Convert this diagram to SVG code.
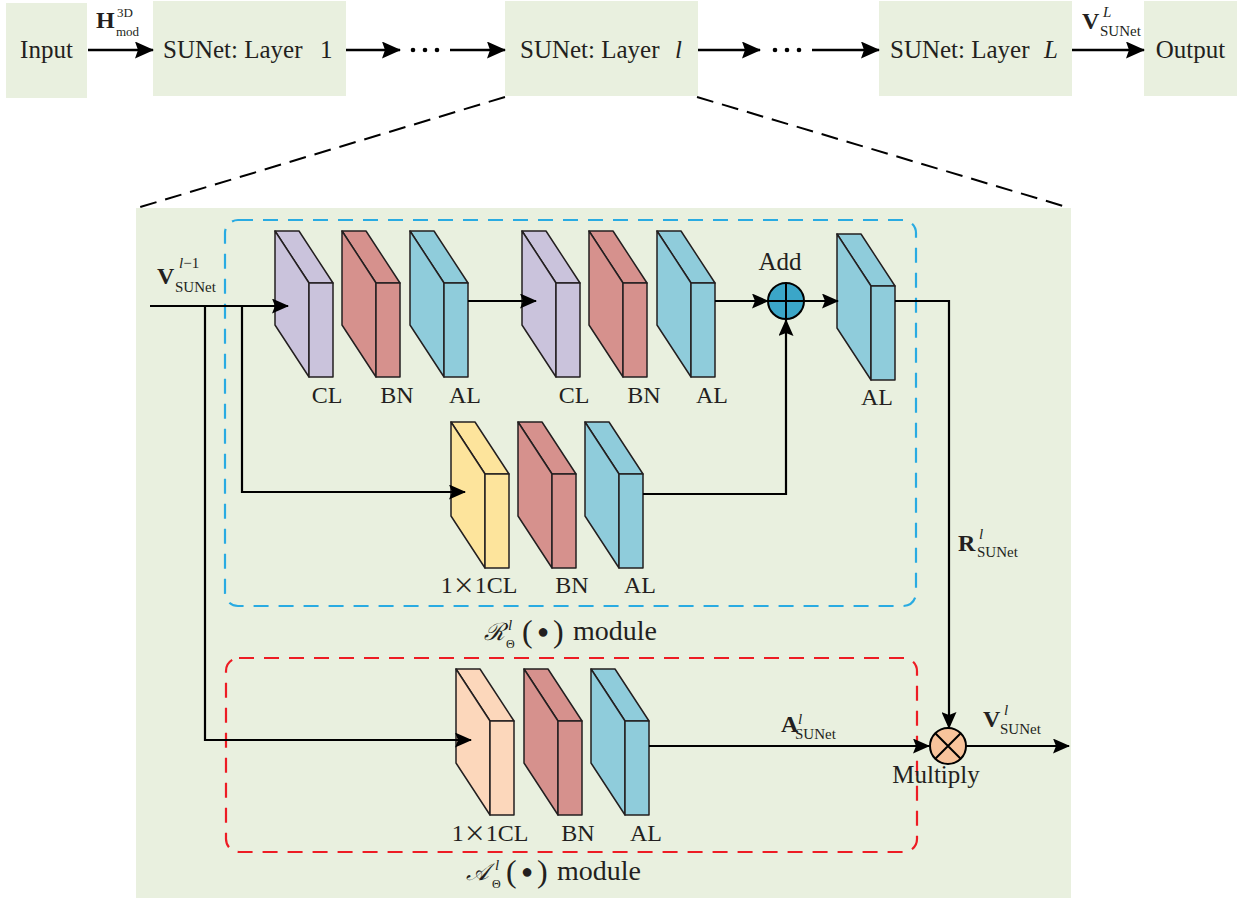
<svg xmlns="http://www.w3.org/2000/svg" xmlns:xlink="http://www.w3.org/1999/xlink" width="1244" height="903" viewBox="0 0 1244 903">
<style>
.box{fill:#e9f0df}
.t{font-family:"Liberation Serif","DejaVu Serif",serif;font-size:25px;fill:#231f20}
.lb{font-size:24px}
.b{font-weight:bold;font-size:24px}
.s{font-size:15px}
.i{font-style:italic}
.ln{fill:none;stroke:#000;stroke-width:2.2}
.lt{fill:none;stroke:#000;stroke-width:2.6}
.dk{fill:none;stroke:#000;stroke-width:2;stroke-dasharray:17 9}
.slab{stroke:#231f20;stroke-width:1.5;stroke-linejoin:round}
.x{font-family:"Noto Sans CJK SC",sans-serif;font-size:22px}
</style>
<defs>
<marker id="ah" markerUnits="userSpaceOnUse" markerWidth="19" markerHeight="17" refX="18" refY="8.5" orient="auto">
<path d="M0,0 L19,8.5 L0,17 L3,8.5 z" fill="#000"/>
</marker>
<marker id="as" markerUnits="userSpaceOnUse" markerWidth="17" markerHeight="15" refX="16" refY="7.5" orient="auto">
<path d="M0,0 L17,7.5 L0,15 L3,7.5 z" fill="#000"/>
</marker>
<g id="slab" class="slab">
<polygon points="0,0 24,0 58,52 34,52"/>
<polygon points="0,0 34,52 34,146 0,94"/>
<rect x="34" y="52" width="24" height="94"/>
</g>
</defs>

<!-- top row nodes -->
<g id="input"><rect class="box" x="6" y="3" width="81" height="95"/><text class="t" x="46.5" y="58" text-anchor="middle">Input</text></g>
<g id="layer1"><rect class="box" x="153" y="1" width="193" height="95"/><text class="t" x="163" y="58">SUNet: Layer<tspan x="320">1</tspan></text></g>
<g id="layerl"><rect class="box" x="505" y="1" width="193" height="95"/><text class="t" x="520" y="58">SUNet: Layer<tspan x="675" class="i">l</tspan></text></g>
<g id="layerL"><rect class="box" x="879" y="1" width="193" height="95"/><text class="t" x="890" y="58">SUNet: Layer<tspan x="1044" class="i">L</tspan></text></g>
<g id="output"><rect class="box" x="1144" y="1" width="93" height="95"/><text class="t" x="1190.5" y="58" text-anchor="middle">Output</text></g>

<!-- panel -->
<g id="panel"><rect class="box" x="136" y="208" width="935" height="690"/></g>
<g id="rmodule"><rect x="225" y="220" width="691" height="386" rx="13" fill="none" stroke="#29abe2" stroke-width="2.2" stroke-dasharray="15 10"/>
<text class="t" y="640"><tspan x="484" font-size="24" class="i">ℛ</tspan><tspan x="508" y="630" class="s i">l</tspan><tspan x="506" y="648" font-size="12">Θ</tspan><tspan x="522" y="642" font-size="32">(</tspan><tspan x="543" y="638" font-size="20" text-anchor="middle">●</tspan><tspan x="553" y="642" font-size="32">)</tspan><tspan x="573" y="640" font-size="28">module</tspan></text></g>
<g id="amodule"><rect x="226" y="658" width="691" height="194" rx="13" fill="none" stroke="#ed1c24" stroke-width="2.2" stroke-dasharray="15 10"/>
<text class="t" y="880"><tspan x="466" font-size="24" class="i">𝒜</tspan><tspan x="495" y="870" class="s i">l</tspan><tspan x="492" y="888" font-size="12">Θ</tspan><tspan x="506" y="882" font-size="32">(</tspan><tspan x="527" y="878" font-size="20" text-anchor="middle">●</tspan><tspan x="537" y="882" font-size="32">)</tspan><tspan x="557" y="880" font-size="28">module</tspan></text></g>

<!-- blocks -->
<g id="cl1"><use xlink:href="#slab" x="275" y="231" fill="#cac3dc"/><text class="t lb" x="327" y="403" text-anchor="middle">CL</text></g>
<g id="bn1"><use xlink:href="#slab" x="342" y="231" fill="#d6918d"/><text class="t lb" x="397" y="403" text-anchor="middle">BN</text></g>
<g id="al1"><use xlink:href="#slab" x="410" y="231" fill="#8fccdb"/><text class="t lb" x="465" y="403" text-anchor="middle">AL</text></g>
<g id="cl2"><use xlink:href="#slab" x="522" y="231" fill="#cac3dc"/><text class="t lb" x="574" y="403" text-anchor="middle">CL</text></g>
<g id="bn2"><use xlink:href="#slab" x="589" y="231" fill="#d6918d"/><text class="t lb" x="644" y="403" text-anchor="middle">BN</text></g>
<g id="al2"><use xlink:href="#slab" x="657" y="231" fill="#8fccdb"/><text class="t lb" x="712" y="403" text-anchor="middle">AL</text></g>
<g id="al3"><use xlink:href="#slab" x="837" y="234" fill="#8fccdb"/><text class="t lb" x="877" y="405" text-anchor="middle">AL</text></g>
<g id="conv1x1a"><use xlink:href="#slab" x="451" y="422" fill="#fde49c"/><text class="t lb" x="479" y="593" text-anchor="middle">1<tspan class="x">×</tspan>1CL</text></g>
<g id="bn3"><use xlink:href="#slab" x="518" y="422" fill="#d6918d"/><text class="t lb" x="572" y="593" text-anchor="middle">BN</text></g>
<g id="al4"><use xlink:href="#slab" x="585" y="422" fill="#8fccdb"/><text class="t lb" x="640" y="593" text-anchor="middle">AL</text></g>
<g id="conv1x1b"><use xlink:href="#slab" x="456" y="669" fill="#fcd7bb"/><text class="t lb" x="490" y="841" text-anchor="middle">1<tspan class="x">×</tspan>1CL</text></g>
<g id="bn4"><use xlink:href="#slab" x="524" y="669" fill="#d6918d"/><text class="t lb" x="578" y="841" text-anchor="middle">BN</text></g>
<g id="al5"><use xlink:href="#slab" x="591" y="669" fill="#8fccdb"/><text class="t lb" x="646" y="841" text-anchor="middle">AL</text></g>

<g id="add"><circle cx="786" cy="301" r="18" fill="#3ba6c8" stroke="#000" stroke-width="2"/><path d="M768,301 H804 M786,283 V319" stroke="#000" stroke-width="2"/><text class="t" x="780" y="270" text-anchor="middle">Add</text></g>
<g id="multiply"><circle cx="948" cy="746" r="18" fill="#f8c39b" stroke="#000" stroke-width="2"/><path d="M935.3,733.3 L960.7,758.7 M960.7,733.3 L935.3,758.7" stroke="#000" stroke-width="2"/><text class="t" x="936" y="783" text-anchor="middle">Multiply</text></g>

<!-- connectors -->
<g id="connectors">
<path class="lt" d="M88,50 H153" marker-end="url(#ah)"/>
<path class="lt" d="M346,50 H400" marker-end="url(#ah)"/>
<path class="lt" d="M450,50 H505" marker-end="url(#ah)"/>
<path class="lt" d="M698,50 H760" marker-end="url(#ah)"/>
<path class="lt" d="M812,50 H879" marker-end="url(#ah)"/>
<path class="lt" d="M1072,50 H1144" marker-end="url(#ah)"/>
<g fill="#000"><circle cx="413" cy="50" r="2.3"/><circle cx="425" cy="50" r="2.3"/><circle cx="437" cy="50" r="2.3"/><circle cx="775" cy="50" r="2.3"/><circle cx="787" cy="50" r="2.3"/><circle cx="799" cy="50" r="2.3"/></g>
<path class="dk" d="M505,97 L137,208"/>
<path class="dk" d="M697,97 L1070,208"/>
<path class="ln" d="M150,306 H288" marker-end="url(#as)"/>
<path class="ln" d="M205,306 V740 H471" marker-end="url(#as)"/>
<path class="ln" d="M242,306 V492 H465" marker-end="url(#as)"/>
<path class="ln" d="M468,301 H536" marker-end="url(#as)"/>
<path class="ln" d="M715,301 H768" marker-end="url(#as)"/>
<path class="ln" d="M804,301 H838" marker-end="url(#as)"/>
<path class="ln" d="M643,494 H786 V320" marker-end="url(#as)"/>
<path class="ln" d="M895,301 H949 V728" marker-end="url(#as)"/>
<path class="ln" d="M649,746 H929" marker-end="url(#as)"/>
<path class="ln" d="M966,746 H1069" marker-end="url(#as)"/>
</g>

<!-- edge labels -->
<g id="labels">
<text class="t"><tspan class="b" x="96" y="28">H</tspan><tspan x="117" y="17" font-size="13">3D</tspan><tspan x="116" y="36" font-size="13">mod</tspan></text>
<text class="t"><tspan class="b" x="1082" y="29">V</tspan><tspan x="1103" y="17" class="s i">L</tspan><tspan x="1100" y="36" class="s">SUNet</tspan></text>
<text class="t"><tspan class="b" x="157" y="284">V</tspan><tspan x="179" y="268" class="s"><tspan class="i">l</tspan>−1</tspan><tspan x="175" y="292" class="s">SUNet</tspan></text>
<text class="t"><tspan class="b" x="958" y="551">R</tspan><tspan x="979" y="539" class="s i">l</tspan><tspan x="977" y="557" class="s">SUNet</tspan></text>
<text class="t"><tspan class="b" x="983" y="727">V</tspan><tspan x="1004" y="715" class="s i">l</tspan><tspan x="1000" y="734" class="s">SUNet</tspan></text>
<text class="t"><tspan class="b" x="781" y="732">A</tspan><tspan x="798" y="724" class="s i">l</tspan><tspan x="795" y="739" class="s">SUNet</tspan></text>
</g>
</svg>
